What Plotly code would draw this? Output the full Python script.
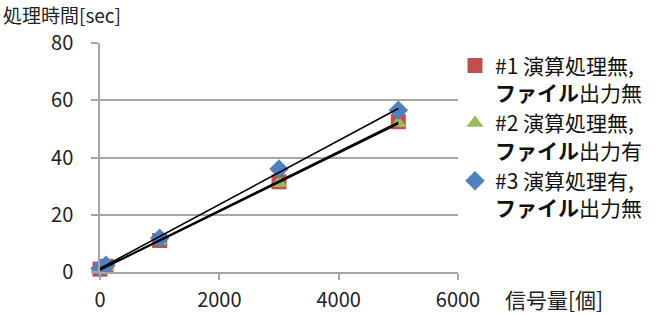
import numpy as np
import plotly.graph_objects as go

signals = [0, 100, 1000, 3000, 5000]
s1 = [1.0, 2.0, 11.0, 31.5, 52.5]
s2 = [0.8, 1.8, 10.8, 31.0, 52.0]
s3 = [1.2, 2.4, 11.8, 36.0, 56.5]
names = ["#1 演算処理無,<br><b>ファイル</b>出力無",
         "#2 演算処理無,<br><b>ファイル</b>出力有",
         "#3 演算処理有,<br><b>ファイル</b>出力無"]
colors = ["#C0504D", "#9BBB59", "#4F81BD"]
symbols = ["square", "triangle-up", "diamond"]
y_ticks = [0, 20, 40, 60, 80]
x_ticks = [0, 2000, 4000, 6000]

FONT = "Noto Sans CJK JP"
fig = go.Figure()
for ys, nm, c, sym in zip([s1, s2, s3], names, colors, symbols):
    fig.add_trace(go.Scatter(x=signals, y=ys, mode="markers", name=nm,
                             marker=dict(color=c, symbol=sym, size=15, line=dict(width=0)),
                             cliponaxis=False))
for ys in [s1, s2, s3]:
    k, b = np.polyfit(signals, ys, 1)
    xs = [min(signals), max(signals)]
    fig.add_trace(go.Scatter(x=xs, y=[k * v + b for v in xs], mode="lines",
                             line=dict(color="black", width=1.6), showlegend=False,
                             cliponaxis=False))

fig.update_layout(
    width=663, height=315,
    margin=dict(l=100, r=205, t=43, b=43),
    plot_bgcolor="white", paper_bgcolor="white",
    font=dict(family=FONT, size=21, color="#222222"),
    showlegend=True,
    legend=dict(x=1.0 - 3 / 358, y=0.99, xanchor="left", yanchor="top", valign="top",
                font=dict(family=FONT, size=21, color="#111111"),
                tracegroupgap=6, itemwidth=30, bgcolor="rgba(0,0,0,0)"),
    xaxis=dict(range=[0, 6000], tickvals=x_ticks, showgrid=False, automargin=False,
               showline=True, linecolor="#A6A6A6", linewidth=1.5,
               ticks="outside", ticklen=6, tickcolor="#A6A6A6", tickwidth=1.5,
               ticklabelstandoff=3,
               zeroline=False, tickfont=dict(size=20, color="#222222")),
    yaxis=dict(range=[0, 80], tickvals=y_ticks, showgrid=True, gridcolor="#A6A6A6", gridwidth=1.5,
               showline=True, linecolor="#A6A6A6", linewidth=1.5, automargin=False,
               ticks="outside", ticklen=7, tickcolor="#A6A6A6", tickwidth=1.5,
               ticklabelstandoff=14,
               zeroline=False, tickfont=dict(size=20, color="#222222")),
    annotations=[
        dict(text="処理時間[sec]", xref="paper", yref="paper", x=-99 / 358, y=1.0 + 28 / 229,
             xanchor="left", yanchor="middle", showarrow=False, font=dict(size=19, color="#222222")),
        dict(text="信号量[個]", xref="paper", yref="paper", x=(503 - 100) / 358, y=-27 / 229,
             xanchor="left", yanchor="middle", showarrow=False, font=dict(size=21, color="#222222")),
    ],
)
fig.write_html("out.html")
